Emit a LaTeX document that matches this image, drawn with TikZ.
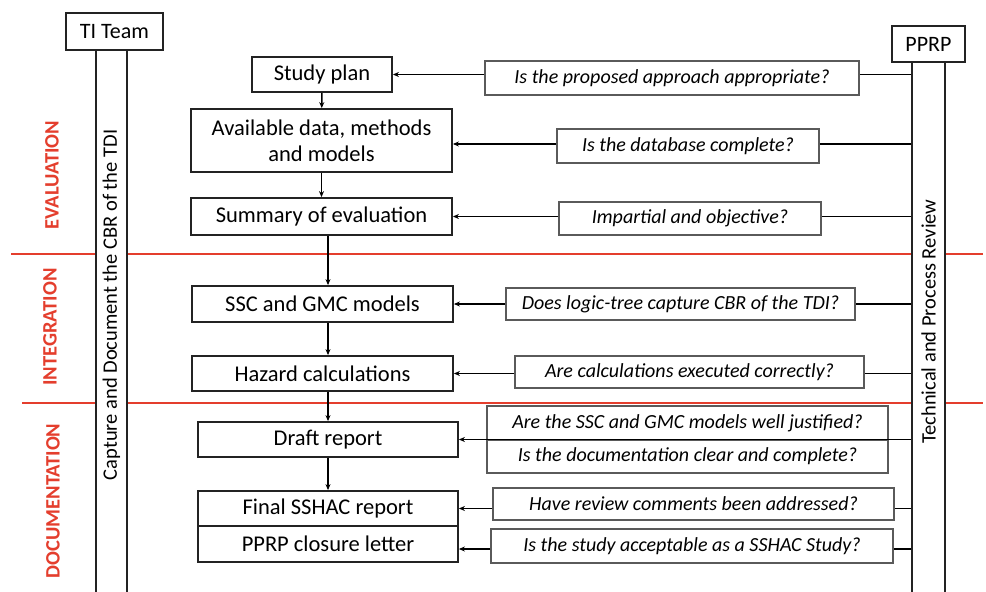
\documentclass[tikz,border=0pt]{standalone}
\usepackage{fontspec}
\setmainfont{Carlito}
\usetikzlibrary{arrows.meta}
\definecolor{lineRed}{RGB}{228,62,45}
\definecolor{boxGray}{RGB}{35,35,35}
\definecolor{askGray}{RGB}{90,90,90}
\tikzset{
  stepbox/.style={draw=boxGray, line width=1.8pt, fill=white, inner sep=2pt, align=center, font=\fontsize{22.5}{26}\selectfont},
  teambox/.style={draw=boxGray, line width=1.8pt, fill=white, inner sep=2pt, font=\fontsize{22}{26}\selectfont},
  askbox/.style={draw=askGray, line width=1.1pt, fill=white, inner sep=2pt, font=\itshape\fontsize{20}{24}\selectfont},
  colbox/.style={draw=boxGray, line width=1.8pt, fill=white},
  coltext/.style={rotate=90, inner sep=0pt, font=\fontsize{20.5}{24}\selectfont},
  phase/.style={text=lineRed, rotate=90, font=\bfseries\fontsize{20.5}{24}\selectfont},
  arr/.style={line width=1.5pt, -{Stealth[length=6pt,width=5pt]}},
  link/.style={line width=1.5pt}
}

\begin{document}
\begin{tikzpicture}[x=1pt, y=-1pt]
  \useasboundingbox (0,0) rectangle (986,592);
  \clip (0,0) rectangle (986,592);

  % phase dividers
  \draw[lineRed, line width=2.4pt] (11,254) -- (983,254);
  \draw[lineRed, line width=2.4pt] (22,403) -- (983,403);

  % phase labels
  \node[phase] (eval) at (52,175) {EVALUATION};
  \node[phase] (integ) at (50,327) {INTEGRATION};
  \node[phase] (docu) at (53,501) {DOCUMENTATION};

  % the two teams and their columns
  \node[teambox, minimum width=97pt, minimum height=37pt] (ti) at (114.5,31.5) {TI Team};
  \node[teambox, minimum width=73pt, minimum height=36pt] (pprp) at (928.5,44) {PPRP};
  \node[colbox, minimum width=31pt, minimum height=550pt] (ticol) at (111.5,325) {};
  \node[colbox, minimum width=33pt, minimum height=538pt] (ppcol) at (928.5,331) {};
  \node[coltext] (tilab) at (ticol |- 0,305) {Capture and Document the CBR of the TDI};
  \node[coltext] (pplab) at (ppcol |- 0,321.5) {Technical and Process Review};

  % process steps
  \node[stepbox, minimum width=140pt, minimum height=35pt] (sp) at (322,74.5) {Study plan};
  \node[stepbox, minimum width=261pt, minimum height=63pt] (av) at (321.5,140.5) {Available data, methods\\and models};
  \node[stepbox, minimum width=261pt, minimum height=37pt] (su) at (321.5,216.5) {Summary of evaluation};
  \node[stepbox, minimum width=261pt, minimum height=36pt] (ssc) at (322.5,304) {SSC and GMC models};
  \node[stepbox, minimum width=261pt, minimum height=35pt] (haz) at (322.5,373.5) {Hazard calculations};
  \node[stepbox, minimum width=260pt, minimum height=35pt] (dr) at (328,439.5) {Draft report};
  \node[stepbox, minimum width=260pt, minimum height=35pt] (fin) at (328,508.5) {Final SSHAC report};
  \node[stepbox, minimum width=260pt, minimum height=36pt] (clo) at (328,544) {PPRP closure letter};

  % review questions
  \node[askbox, minimum width=374pt, minimum height=34pt] (q1) at (672,78) {Is the proposed approach appropriate?};
  \node[askbox, minimum width=262pt, minimum height=34pt] (q2) at (688,146) {Is the database complete?};
  \node[askbox, minimum width=262pt, minimum height=33pt] (q3) at (690,218.5) {Impartial and objective?};
  \node[askbox, minimum width=349pt, minimum height=32pt] (q4) at (680.5,304) {Does logic-tree capture CBR of the TDI?};
  \node[askbox, minimum width=349pt, minimum height=32pt] (q5) at (689.5,372) {Are calculations executed correctly?};
  \node[askbox, minimum width=401pt, minimum height=34pt] (q6) at (687.5,423) {Are the SSC and GMC models well justified?};
  \node[askbox, minimum width=401pt, minimum height=33pt] (q7) at (687.5,456.5) {Is the documentation clear and complete?};
  \node[askbox, minimum width=401pt, minimum height=32pt] (q8) at (693.5,504) {Have review comments been addressed?};
  \node[askbox, minimum width=402pt, minimum height=34pt] (q9) at (692,546) {Is the study acceptable as a SSHAC Study?};

  % flow of the study
  \coordinate (spine) at (328,0);
  \draw[arr] (sp) -- (av);
  \draw[arr] (av) -- (su);
  \draw[arr] (spine |- su.south) -- (spine |- ssc.north);
  \draw[arr] (spine |- ssc.south) -- (spine |- haz.north);
  \draw[arr] (spine |- haz.south) -- (dr.north);
  \draw[arr] (dr) -- (fin);

  % review feedback
  \coordinate (avin) at ([yshift=-3.5pt]av.east);
  \coordinate (cloin) at ([yshift=-5pt]clo.east);
  \draw[link] (ppcol.west |- sp.east) -- (q1.east |- sp.east);
  \draw[arr] (q1.west |- sp.east) -- (sp.east);
  \draw[link] (ppcol.west |- avin) -- (q2.east |- avin);
  \draw[arr] (q2.west |- avin) -- (avin);
  \draw[link] (ppcol.west |- su.east) -- (q3.east |- su.east);
  \draw[arr] (q3.west |- su.east) -- (su.east);
  \draw[link] (ppcol.west |- ssc.east) -- (q4.east |- ssc.east);
  \draw[arr] (q4.west |- ssc.east) -- (ssc.east);
  \draw[link] (ppcol.west |- haz.east) -- (q5.east |- haz.east);
  \draw[arr] (q5.west |- haz.east) -- (haz.east);
  \draw[arr] (ppcol.west |- dr.east) -- (dr.east);
  \draw[link] (ppcol.west |- fin.east) -- (q8.east |- fin.east);
  \draw[arr] (q8.west |- fin.east) -- (fin.east);
  \draw[link] (ppcol.west |- cloin) -- (q9.east |- cloin);
  \draw[arr] (q9.west |- cloin) -- (cloin);
\end{tikzpicture}
\end{document}
